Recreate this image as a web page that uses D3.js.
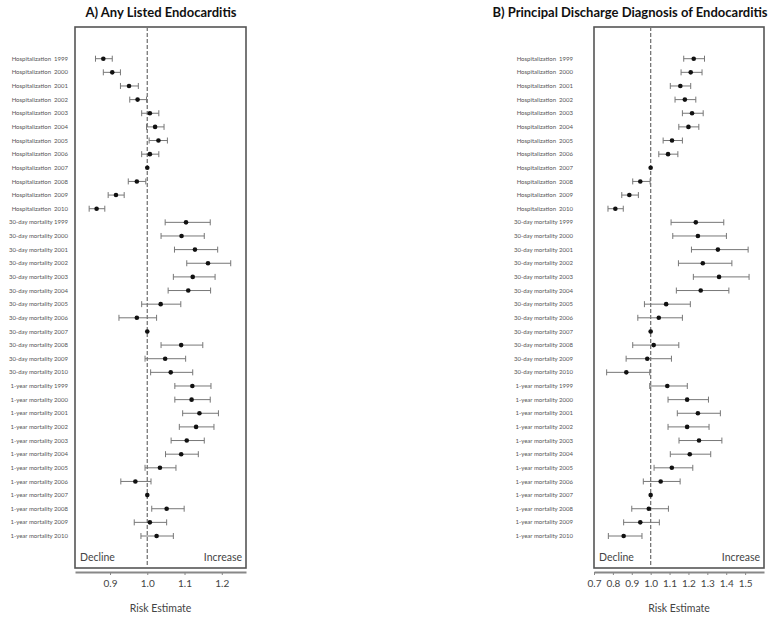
<!DOCTYPE html>
<html>
<head>
<meta charset="utf-8">
<script src="https://cdn.jsdelivr.net/npm/d3@7"></script>
<style>
  body { margin: 0; background: #fff; }
  svg { display: block; font-family: Lato, "Open Sans", sans-serif; }
  .row-label { font-size: 6px; fill: #555; white-space: pre; }
  .title { font-size: 13px; font-weight: bold; fill: #111; }
  .axis text { font-size: 10px; fill: #444; font-family: Lato, sans-serif; }
  .axis path, .axis line { stroke: #888; }
</style>
</head>
<body>
<svg id="forest" width="778" height="620"></svg>
<script>
// row categories
const outcomes = ['Hospitalization  ', '30-day mortality ', '1-year mortality '];
const years = [1999, 2000, 2001, 2002, 2003, 2004, 2005, 2006, 2007, 2008, 2009, 2010];

// A) any listed endocarditis: estimate, lower, upper (36 rows)
const anyEst = [
  0.882, 0.906, 0.951, 0.974, 1.007, 1.021, 1.030, 1.007, 1.000, 0.972, 0.916, 0.864,
  1.104, 1.092, 1.128, 1.163, 1.122, 1.110, 1.036, 0.972, 1.000, 1.091, 1.048, 1.063,
  1.121, 1.119, 1.140, 1.131, 1.106, 1.091, 1.034, 0.968, 1.000, 1.052, 1.007, 1.025
];
const anyLo = [
  0.861, 0.882, 0.928, 0.953, 0.985, 0.998, 1.005, 0.985, 1.000, 0.949, 0.895, 0.844,
  1.048, 1.037, 1.073, 1.106, 1.070, 1.056, 0.985, 0.924, 1.000, 1.037, 0.994, 1.009,
  1.074, 1.074, 1.095, 1.086, 1.064, 1.049, 0.994, 0.929, 1.000, 1.012, 0.965, 0.983
];
const anyHi = [
  0.906, 0.928, 0.976, 0.998, 1.031, 1.045, 1.054, 1.031, 1.000, 0.996, 0.938, 0.886,
  1.169, 1.153, 1.189, 1.224, 1.182, 1.170, 1.090, 1.025, 1.000, 1.149, 1.103, 1.122,
  1.171, 1.169, 1.191, 1.179, 1.153, 1.137, 1.077, 1.010, 1.000, 1.099, 1.052, 1.070
];

// B) principal discharge diagnosis of endocarditis
const pdxEst = [
  1.228, 1.212, 1.157, 1.181, 1.219, 1.200, 1.113, 1.092, 1.000, 0.945, 0.887, 0.813,
  1.239, 1.250, 1.356, 1.276, 1.362, 1.265, 1.082, 1.043, 1.000, 1.016, 0.982, 0.871,
  1.088, 1.193, 1.250, 1.193, 1.256, 1.207, 1.112, 1.053, 1.000, 0.990, 0.945, 0.857
];
const pdxLo = [
  1.175, 1.161, 1.104, 1.129, 1.168, 1.149, 1.066, 1.043, 1.000, 0.905, 0.847, 0.774,
  1.108, 1.117, 1.216, 1.147, 1.226, 1.136, 0.967, 0.932, 1.000, 0.905, 0.870, 0.767,
  0.995, 1.092, 1.141, 1.092, 1.150, 1.104, 1.018, 0.961, 1.000, 0.900, 0.857, 0.776
];
const pdxHi = [
  1.285, 1.272, 1.212, 1.239, 1.278, 1.255, 1.168, 1.144, 1.000, 0.997, 0.935, 0.855,
  1.387, 1.401, 1.516, 1.430, 1.521, 1.414, 1.210, 1.168, 1.000, 1.149, 1.110, 0.995,
  1.194, 1.306, 1.369, 1.309, 1.377, 1.318, 1.223, 1.156, 1.000, 1.094, 1.046, 0.954
];

const anyTicks = [0.9, 1.0, 1.1, 1.2];
const pdxTicks = [0.7, 0.8, 0.9, 1.0, 1.1, 1.2, 1.3, 1.4, 1.5];

const rowLabels = [];
outcomes.forEach(o => years.forEach(y => rowLabels.push(o + y)));

const svg = d3.select('#forest');

const yScale = d3.scalePoint()
  .domain(d3.range(rowLabels.length))
  .range([58.7, 536]);

const boxTop = 27;
const boxBottom = 568;
const axisY = 572;

function drawPanel(opts) {
  const x = d3.scaleLinear().domain(opts.domain).range([opts.left, opts.right]);
  const g = svg.append('g');

  g.append('text')
    .attr('class', 'title')
    .attr('x', opts.titleX)
    .attr('y', 17)
    .attr('text-anchor', 'middle')
    .text(opts.title);

  g.append('rect')
    .attr('x', opts.left)
    .attr('y', boxTop)
    .attr('width', opts.right - opts.left)
    .attr('height', boxBottom - boxTop)
    .attr('fill', 'none')
    .attr('stroke', '#555')
    .attr('stroke-width', 1.6);

  g.append('line')
    .attr('x1', x(1)).attr('x2', x(1))
    .attr('y1', boxTop).attr('y2', boxBottom)
    .attr('stroke', '#777')
    .attr('stroke-width', 1.3)
    .attr('stroke-dasharray', '4,2');

  g.selectAll('.row-label')
    .data(rowLabels)
    .enter()
    .append('text')
      .attr('class', 'row-label')
      .attr('x', opts.labelX)
      .attr('y', (d, i) => yScale(i))
      .attr('dy', '0.35em')
      .attr('text-anchor', 'end')
      .text(d => d);

  const rows = opts.est.map((v, i) => ({ i, v, lo: opts.lo[i], hi: opts.hi[i] }))
    .filter(d => d.hi > d.lo);

  const bars = g.selectAll('.ci')
    .data(rows)
    .enter()
    .append('g')
      .attr('class', 'ci')
      .attr('stroke', '#777')
      .attr('stroke-width', 1);

  bars.append('line')
    .attr('x1', d => x(d.lo)).attr('x2', d => x(d.hi))
    .attr('y1', d => yScale(d.i)).attr('y2', d => yScale(d.i));
  bars.append('line')
    .attr('x1', d => x(d.lo)).attr('x2', d => x(d.lo))
    .attr('y1', d => yScale(d.i) - 3).attr('y2', d => yScale(d.i) + 3);
  bars.append('line')
    .attr('x1', d => x(d.hi)).attr('x2', d => x(d.hi))
    .attr('y1', d => yScale(d.i) - 3).attr('y2', d => yScale(d.i) + 3);

  g.selectAll('.pt')
    .data(opts.est)
    .enter()
    .append('circle')
      .attr('class', 'pt')
      .attr('cx', d => x(d))
      .attr('cy', (d, i) => yScale(i))
      .attr('r', 2.3)
      .attr('fill', '#111');

  g.append('text')
    .attr('x', opts.left + 5)
    .attr('y', 561)
    .attr('font-size', 10.5)
    .attr('fill', '#444')
    .text('Decline');
  g.append('text')
    .attr('x', opts.right - 4)
    .attr('y', 561)
    .attr('font-size', 10.5)
    .attr('fill', '#444')
    .attr('text-anchor', 'end')
    .text('Increase');

  const axis = d3.axisBottom(x)
    .tickValues(opts.ticks)
    .tickFormat(d3.format('.1f'))
    .tickSizeInner(3)
    .tickSizeOuter(0)
    .tickPadding(5);

  const ax = g.append('g')
    .attr('class', 'axis')
    .attr('transform', `translate(0, ${axisY})`)
    .call(axis);
  ax.select('.domain').attr('stroke-width', 2);

  g.append('text')
    .attr('x', (opts.left + opts.right) / 2)
    .attr('y', 612)
    .attr('text-anchor', 'middle')
    .attr('font-size', 10.5)
    .attr('fill', '#444')
    .text('Risk Estimate');
}

drawPanel({
  title: 'A) Any Listed Endocarditis',
  titleX: 161,
  left: 75, right: 246,
  domain: [0.806, 1.265],
  labelX: 68,
  ticks: anyTicks,
  est: anyEst, lo: anyLo, hi: anyHi
});

drawPanel({
  title: 'B) Principal Discharge Diagnosis of Endocarditis',
  titleX: 630,
  left: 594, right: 764,
  domain: [0.7, 1.6],
  labelX: 573,
  ticks: pdxTicks,
  est: pdxEst, lo: pdxLo, hi: pdxHi
});
</script>
</body>
</html>
